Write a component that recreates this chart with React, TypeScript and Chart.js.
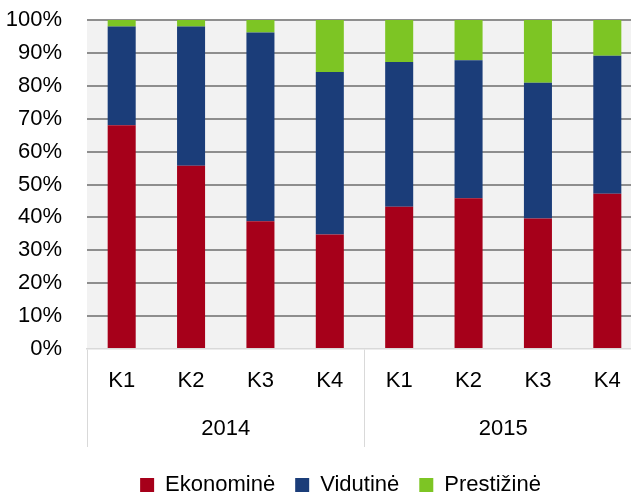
import React, { useEffect, useRef } from 'react';
import { Chart, registerables } from 'chart.js';

Chart.register(...registerables);

const quarters = ['K1', 'K2', 'K3', 'K4', 'K1', 'K2', 'K3', 'K4'];
const years = ['2014', '2015'];
const ekonomine = [68, 55.7, 38.8, 34.8, 43.2, 45.8, 39.7, 47.2];
const vidutine = [30, 42.3, 57.4, 49.4, 44, 42, 41.2, 41.9];
const prestizine = [2, 2, 3.8, 15.8, 12.8, 12.2, 19.1, 10.9];
const seriesNames = ['Ekonominė', 'Vidutinė', 'Prestižinė'];
const seriesColors = ['#A6001A', '#1B3D79', '#7DC524'];

const FONT_FAMILY = "'Liberation Sans', Arial, sans-serif";
const font = { family: FONT_FAMILY, size: 22 };

const plotBg = {
  id: 'plotBg',
  beforeDraw(chart: any) {
    const { ctx, chartArea } = chart;
    if (!chartArea) return;
    ctx.save();
    ctx.fillStyle = '#F2F2F2';
    ctx.fillRect(chartArea.left, chartArea.top, chartArea.right - chartArea.left, chartArea.bottom - chartArea.top);
    ctx.restore();
  },
};

const legendShift = {
  id: 'legendShift',
  afterLayout(chart: any) {
    const lg = chart.legend;
    if (!lg) return;
    lg.left += 39;
    lg.top += 7;
    lg.bottom += 7;
  },
};

export default function App() {
  const ref = useRef<HTMLCanvasElement | null>(null);
  useEffect(() => {
    if (!ref.current) return;
    const chart = new Chart(ref.current, {
      type: 'bar',
      data: {
        labels: quarters,
        datasets: [ekonomine, vidutine, prestizine].map((d, i) => ({
          label: seriesNames[i],
          data: d,
          backgroundColor: seriesColors[i],
          borderWidth: 0,
          barPercentage: 0.404,
          categoryPercentage: 1,
        })),
      },
      options: {
        animation: false,
        responsive: false,
        devicePixelRatio: 1,
        layout: { padding: { left: 0, right: 0, top: 0, bottom: -5 } },
        plugins: {
          legend: {
            position: 'bottom',
            labels: {
              font,
              color: '#000',
              boxWidth: 14,
              boxHeight: 14,
              padding: 20,
            },
          },
          tooltip: { enabled: false },
        },
        scales: {
          y: {
            stacked: true,
            min: 0,
            max: 100,
            ticks: {
              stepSize: 10,
              autoSkip: false,
              font,
              color: '#000',
              padding: 6.8,
              callback: (v: any) => v + '%',
            },
            grid: {
              drawTicks: true,
              tickLength: 18.2,
              tickColor: 'rgba(0,0,0,0)',
              color: (c: any) => (c.tick && c.tick.value === 0 ? 'rgba(0,0,0,0)' : '#8E8E8E'),
              lineWidth: 2,
            },
            border: { display: false },
            afterFit: (s: any) => {
              s.width = 87;
            },
          },
          x: {
            stacked: true,
            offset: true,
            grid: {
              offset: true,
              drawOnChartArea: false,
              drawTicks: true,
              tickLength: 48,
              color: (c: any) => (c.index !== undefined && c.index % 4 === 0 ? '#D9D9D9' : 'rgba(0,0,0,0)'),
            },
            border: { display: true, color: '#D9D9D9', width: 1.5 },
            ticks: { font, color: '#000', padding: -29, maxRotation: 0, autoSkip: false },
            afterFit: (s: any) => {
              s.height = 48;
            },
          },
          x2: {
            type: 'category',
            labels: years,
            position: 'bottom',
            offset: true,
            grid: {
              offset: true,
              drawOnChartArea: false,
              drawTicks: true,
              tickLength: 50,
              color: '#D9D9D9',
            },
            border: { display: false },
            ticks: { font, color: '#000', padding: -31, maxRotation: 0, autoSkip: false },
            afterFit: (s: any) => {
              s.height = 50;
            },
          },
        },
      } as any,
      plugins: [plotBg, legendShift],
    });
    return () => chart.destroy();
  }, []);

  return (
    <div style={{ position: 'fixed', left: 0, top: 0, width: 631, height: 494, overflow: 'hidden', background: '#fff' }}>
      <canvas ref={ref} width={642} height={494} style={{ display: 'block', width: 642, height: 494 }} />
    </div>
  );
}
